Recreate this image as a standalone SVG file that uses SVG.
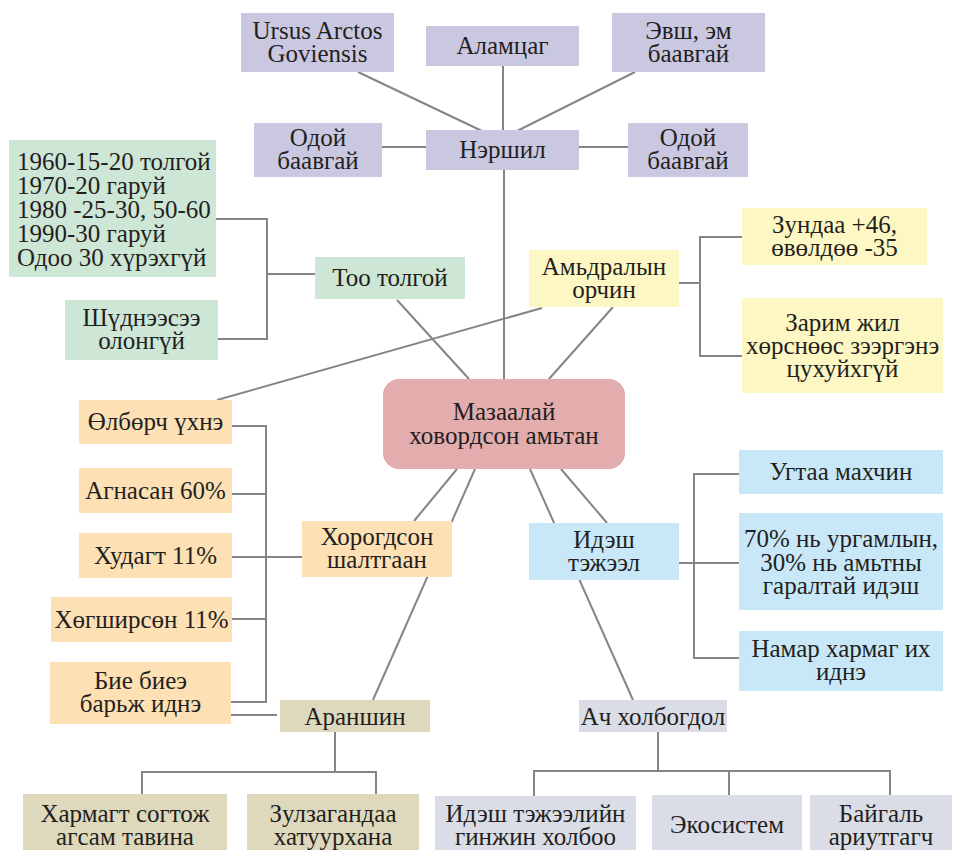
<svg xmlns="http://www.w3.org/2000/svg" width="960" height="850" viewBox="0 0 960 850">
<style>
text{font-family:'Liberation Serif','DejaVu Serif',serif;font-size:25px;fill:#231f20;text-anchor:middle}
.sm{font-size:25px;text-anchor:start}
.pu{fill:#cac8e1}.gr{fill:#cde6d6}.ye{fill:#fdf7c3}.or{fill:#fde0b4}.bl{fill:#c8e8f8}.ma{fill:#e3adad}.tn{fill:#ded9bc}.gy{fill:#dadde6}
#connectors path{fill:none;stroke:#858585;stroke-width:2}
</style>
<rect width="960" height="850" fill="#ffffff"/>
<g id="connectors">
<path d="M358,72 L482,131"/>
<path d="M503,66 V130"/>
<path d="M635,72 L517,131"/>
<path d="M382,147 H426"/>
<path d="M579,147 H628"/>
<path d="M504,170 V379"/>
<path d="M397,300 L469,379"/>
<path d="M613,307 L549,379"/>
<path d="M542,308 L217,400"/>
<path d="M216,219 H267 V339 H218 M267,274 H315"/>
<path d="M679,283 H700 M742,237 H700 V356 H742"/>
<path d="M232,426 H266 V702 H231 M232,494 H266 M232,557 H302 M232,619 H266"/>
<path d="M231,715 H277"/>
<path d="M475,469 L373,700"/>
<path d="M457,469 L414,521"/>
<path d="M530,469 L633,700"/>
<path d="M561,469 L607,523"/>
<path d="M679,563 H739 M739,474 H694 V658 H739"/>
<path d="M335,732 V772 M142,794 V772 H376 V794"/>
<path d="M658,732 V771 M534,796 V771 H890 V795 M729,771 V795"/>
</g>
<g id="ursus"><rect class="pu" x="241" y="13" width="153" height="59"/><text x="317.5" y="39">Ursus Arctos<tspan x="317.5" dy="23">Goviensis</tspan></text></g>
<g id="alamtsag"><rect class="pu" x="426" y="26" width="153" height="40"/><text x="502.5" y="54">Аламцаг</text></g>
<g id="evsh"><rect class="pu" x="612" y="13" width="153" height="59"/><text x="688.5" y="39">Эвш, эм<tspan x="688.5" dy="23">баавгай</tspan></text></g>
<g id="odoi-left"><rect class="pu" x="254" y="123" width="128" height="54"/><text x="318" y="146">Одой<tspan x="318" dy="23">баавгай</tspan></text></g>
<g id="nershil"><rect class="pu" x="426" y="130" width="153" height="40"/><text x="502.5" y="158">Нэршил</text></g>
<g id="odoi-right"><rect class="pu" x="628" y="123" width="120" height="54"/><text x="688" y="146">Одой<tspan x="688" dy="23">баавгай</tspan></text></g>
<g id="years"><rect class="gr" x="9" y="140" width="207" height="137"/>
<text class="sm" x="17" y="170">1960-15-20 толгой<tspan x="17" dy="24">1970-20 гаруй</tspan><tspan x="17" dy="24">1980 -25-30, 50-60</tspan><tspan x="17" dy="24">1990-30 гаруй</tspan><tspan x="17" dy="24">Одоо 30 хүрэхгүй</tspan></text></g>
<g id="shudnees"><rect class="gr" x="65" y="300" width="153" height="60"/><text x="141.5" y="326">Шүднээсээ<tspan x="141.5" dy="23">олонгүй</tspan></text></g>
<g id="too-tolgoi"><rect class="gr" x="315" y="257" width="150" height="42"/><text x="390" y="286">Тоо толгой</text></g>
<g id="amidral"><rect class="ye" x="529" y="250" width="150" height="57"/><text x="604" y="275">Амьдралын<tspan x="604" dy="23">орчин</tspan></text></g>
<g id="zundaa"><rect class="ye" x="742" y="208" width="185" height="57"/><text x="834.5" y="233">Зундаа +46,<tspan x="834.5" dy="23">өвөлдөө -35</tspan></text></g>
<g id="zarim"><rect class="ye" x="742" y="298" width="201" height="95"/><text x="842.5" y="331">Зарим жил<tspan x="842.5" dy="23">хөрснөөс зээргэнэ</tspan><tspan x="842.5" dy="23">цухуйхгүй</tspan></text></g>
<g id="mazaalai"><rect class="ma" x="383" y="379" width="242" height="90" rx="16"/><text x="504" y="420">Мазаалай<tspan x="504" dy="24">ховордсон амьтан</tspan></text></g>
<g id="olborch"><rect class="or" x="79" y="400" width="153" height="44"/><text x="155.5" y="430">Өлбөрч үхнэ</text></g>
<g id="agnasan"><rect class="or" x="79" y="468" width="153" height="45"/><text x="155.5" y="499">Агнасан 60%</text></g>
<g id="khudagt"><rect class="or" x="79" y="533" width="153" height="45"/><text x="155.5" y="564">Худагт 11%</text></g>
<g id="khogshirson"><rect class="or" x="51" y="597" width="181" height="45"/><text x="141.5" y="628">Хөгширсөн 11%</text></g>
<g id="bie-biee"><rect class="or" x="50" y="662" width="181" height="62"/><text x="140.5" y="689">Бие биеэ<tspan x="140.5" dy="23">барьж иднэ</tspan></text></g>
<g id="khorogdson"><rect class="or" x="302" y="521" width="150" height="56"/><text x="377" y="545">Хорогдсон<tspan x="377" dy="23">шалтгаан</tspan></text></g>
<g id="idesh"><rect class="bl" x="529" y="523" width="150" height="57"/><text x="604" y="548">Идэш<tspan x="604" dy="23">тэжээл</tspan></text></g>
<g id="ugtaa"><rect class="bl" x="739" y="450" width="204" height="44"/><text x="841" y="480">Угтаа махчин</text></g>
<g id="percent"><rect class="bl" x="739" y="513" width="204" height="97"/><text x="841" y="547">70% нь ургамлын,<tspan x="841" dy="23.5">30% нь амьтны</tspan><tspan x="841" dy="23.5">гаралтай идэш</tspan></text></g>
<g id="namar"><rect class="bl" x="739" y="631" width="204" height="60"/><text x="841" y="657">Намар хармаг их<tspan x="841" dy="23">иднэ</tspan></text></g>
<g id="aranshin"><rect class="tn" x="280" y="700" width="150" height="32"/><text x="355" y="725">Араншин</text></g>
<g id="ach"><rect class="gy" x="579" y="700" width="148" height="32"/><text x="653" y="725">Ач холбогдол</text></g>
<g id="kharmagt"><rect class="tn" x="23" y="794" width="204" height="60"/><text x="125" y="822">Хармагт согтож<tspan x="125" dy="23">агсам тавина</tspan></text></g>
<g id="zulzaga"><rect class="tn" x="247" y="794" width="172" height="60"/><text x="333" y="822">Зулзагандаа<tspan x="333" dy="23">хатуурхана</tspan></text></g>
<g id="ginjin"><rect class="gy" x="435" y="796" width="201" height="58"/><text x="535.5" y="822">Идэш тэжээлийн<tspan x="535.5" dy="23">гинжин холбоо</tspan></text></g>
<g id="ekosistem"><rect class="gy" x="652" y="795" width="150" height="59"/><text x="727" y="833">Экосистем</text></g>
<g id="baigal"><rect class="gy" x="810" y="795" width="142" height="59"/><text x="881" y="822">Байгаль<tspan x="881" dy="23">ариутгагч</tspan></text></g>
</svg>
